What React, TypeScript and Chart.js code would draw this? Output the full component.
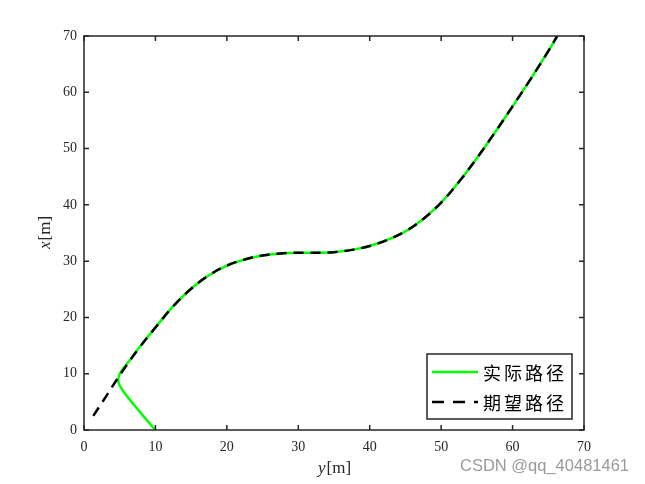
import React, { useEffect, useRef } from "react";
import { Chart, registerables } from "chart.js";
Chart.register(...registerables);

// horizontal axis (labelled y[m]) and vertical axis (labelled x[m])
const xTicks = [0, 10, 20, 30, 40, 50, 60, 70];
const yTicks = [0, 10, 20, 30, 40, 50, 60, 70];

// desired path (期望路径)
const refH = [1.3, 3.2, 5.2, 7.5, 10, 12.5, 15, 17.5, 20, 22.5, 25, 27.5, 30, 32.5, 35, 37.5, 40, 42.5, 45, 47.5, 50, 52.5, 55, 57.5, 60, 62.5, 65, 66.25];
const refV = [2.5, 6.2, 10.1, 14.2, 18.2, 22.0, 25.1, 27.5, 29.2, 30.3, 31.0, 31.35, 31.5, 31.5, 31.6, 32.0, 32.7, 33.8, 35.3, 37.5, 40.4, 44.1, 48.3, 52.8, 57.5, 62.3, 67.3, 70];

// actual path (实际路径)
const actH = [10, 8.5, 7, 5.6, 4.9, 4.8, 5.2, 6.3, 8.0, 10, 12.5, 15, 17.5, 20, 22.5, 25, 27.5, 30, 32.5, 35, 37.5, 40, 42.5, 45, 47.5, 50, 52.5, 55, 57.5, 60, 62.5, 65, 66.25];
const actV = [0, 2.2, 4.5, 6.7, 8.2, 9.2, 10.4, 12.2, 15.1, 18.2, 22.0, 25.1, 27.5, 29.2, 30.3, 31.0, 31.35, 31.5, 31.5, 31.6, 32.0, 32.7, 33.8, 35.3, 37.5, 40.4, 44.1, 48.3, 52.8, 57.5, 62.3, 67.3, 70];

const legendLabels = ["实际路径", "期望路径"];
const xTitle = ["y", "[m]"];
const yTitle = ["x", "[m]"];
const watermark = "CSDN @qq_40481461";

const AXIS = "#262626";
const SERIF = '"Liberation Serif", "Times New Roman", serif';

function drawTitle(ctx: CanvasRenderingContext2D, parts: string[], cx: number, cy: number, rot: number) {
  ctx.save();
  ctx.translate(cx, cy);
  ctx.rotate(rot);
  ctx.fillStyle = AXIS;
  ctx.textBaseline = "middle";
  const f1 = `italic 17px ${SERIF}`;
  const f2 = `17px ${SERIF}`;
  ctx.font = f1;
  const w1 = ctx.measureText(parts[0]).width;
  ctx.font = f2;
  const w2 = ctx.measureText(parts[1]).width;
  const start = -(w1 + w2) / 2;
  ctx.textAlign = "left";
  ctx.font = f1;
  ctx.fillText(parts[0], start, 0);
  ctx.font = f2;
  ctx.fillText(parts[1], start + w1 + 1, 0);
  ctx.restore();
}

const framePlugin = {
  id: "frame",
  afterDatasetsDraw(chart: any) {
    const { ctx, chartArea, scales } = chart;
    const { left, right, top, bottom } = chartArea;
    const xs = scales.x;
    const ys = scales.y;
    ctx.save();
    ctx.strokeStyle = AXIS;
    ctx.lineWidth = 1.5;
    ctx.setLineDash([]);
    ctx.strokeRect(left, top, right - left, bottom - top);
    ctx.beginPath();
    xTicks.forEach((v) => {
      const p = xs.getPixelForValue(v);
      ctx.moveTo(p, bottom);
      ctx.lineTo(p, bottom - 5);
      ctx.moveTo(p, top);
      ctx.lineTo(p, top + 5);
    });
    yTicks.forEach((v) => {
      const p = ys.getPixelForValue(v);
      ctx.moveTo(left, p);
      ctx.lineTo(left + 5, p);
      ctx.moveTo(right, p);
      ctx.lineTo(right - 5, p);
    });
    ctx.stroke();

    // legend
    const lx = 427, ly = 354, lw = 145, lh = 65;
    ctx.fillStyle = "#ffffff";
    ctx.fillRect(lx, ly, lw, lh);
    ctx.strokeStyle = AXIS;
    ctx.lineWidth = 1.5;
    ctx.strokeRect(lx, ly, lw, lh);
    const rows = [372, 402];
    ctx.beginPath();
    ctx.strokeStyle = "#00ff00";
    ctx.lineWidth = 2.5;
    ctx.moveTo(432, rows[0]);
    ctx.lineTo(478, rows[0]);
    ctx.stroke();
    ctx.beginPath();
    ctx.strokeStyle = "#000000";
    ctx.setLineDash([12, 9]);
    ctx.moveTo(432, rows[1]);
    ctx.lineTo(478, rows[1]);
    ctx.stroke();
    ctx.setLineDash([]);
    ctx.fillStyle = "#000000";
    ctx.font = '18px "Noto Sans CJK SC", sans-serif';
    ctx.textBaseline = "middle";
    ctx.textAlign = "left";
    legendLabels.forEach((lab, r) => {
      Array.from(lab).forEach((ch, i) => {
        ctx.fillText(ch, 483 + i * 21, rows[r] + 1);
      });
    });

    // axis titles
    drawTitle(ctx, xTitle, (left + right) / 2, 469, 0);
    drawTitle(ctx, yTitle, 46, (top + bottom) / 2, -Math.PI / 2);

    // watermark
    ctx.fillStyle = "#9a9a9a";
    ctx.font = '16.5px "Liberation Sans", Arial, sans-serif';
    ctx.textAlign = "left";
    ctx.textBaseline = "middle";
    ctx.fillText(watermark, 460, 466);
    ctx.restore();
  },
};

export default function App() {
  const ref = useRef<HTMLCanvasElement | null>(null);
  useEffect(() => {
    if (!ref.current) return;
    const tickFont = { family: SERIF, size: 14 };
    const chart = new Chart(ref.current, {
      type: "scatter",
      data: {
        datasets: [
          {
            label: legendLabels[1],
            data: refH.map((h, i) => ({ x: h, y: refV[i] })),
            showLine: true,
            borderColor: "#000000",
            borderWidth: 2.5,
            borderDash: [10, 7],
            pointRadius: 0,
            tension: 0.4,
            order: 0,
          },
          {
            label: legendLabels[0],
            data: actH.map((h, i) => ({ x: h, y: actV[i] })),
            showLine: true,
            borderColor: "#00ff00",
            borderWidth: 2.5,
            pointRadius: 0,
            tension: 0.4,
            order: 1,
          },
        ],
      },
      options: {
        responsive: false,
        animation: false,
        devicePixelRatio: 1,
        layout: { padding: { left: 0, top: 36, right: 61, bottom: 0 } },
        plugins: { legend: { display: false }, tooltip: { enabled: false } },
        scales: {
          x: {
            type: "linear",
            min: 0,
            max: 70,
            ticks: { stepSize: 10, font: tickFont, color: AXIS, padding: 9, maxRotation: 0 },
            grid: { display: false, drawTicks: false },
            border: { display: false },
            afterFit: (s: any) => {
              s.height = 54;
            },
          },
          y: {
            type: "linear",
            min: 0,
            max: 70,
            ticks: { stepSize: 10, font: tickFont, color: AXIS, padding: 7 },
            grid: { display: false, drawTicks: false },
            border: { display: false },
            afterFit: (s: any) => {
              s.width = 84;
            },
          },
        },
      },
      plugins: [framePlugin],
    } as any);
    return () => chart.destroy();
  }, []);
  return (
    <div style={{ position: "absolute", left: 0, top: 0, width: 645, height: 484, background: "#fff" }}>
      <canvas ref={ref} width={645} height={484} />
    </div>
  );
}
